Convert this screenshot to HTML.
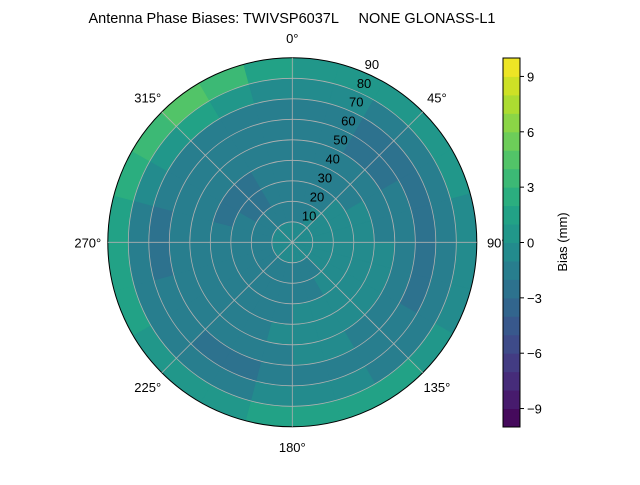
<!DOCTYPE html>
<html><head><meta charset="utf-8"><style>
body{margin:0;background:#fff;}
svg text{font-family:"Liberation Sans","DejaVu Sans",sans-serif;}
</style></head><body>
<svg id="chart" width="640" height="480" viewBox="0 0 640 480" xmlns="http://www.w3.org/2000/svg">
<text x="292" y="23" font-size="14.5" text-anchor="middle" xml:space="preserve">Antenna Phase Biases: TWIVSP6037L     NONE GLONASS-L1</text>
<defs><clipPath id="pc"><circle cx="292.3" cy="242.3" r="184.5"/></clipPath></defs>
<g id="cells" clip-path="url(#pc)"></g>
<g id="grid"></g>
<g id="cbar"></g>
</svg>
<script>
// zenith ring edges (deg) and azimuth bin starts (deg, clockwise from north)
const zenithEdges=[0,10,20,30,40,50,60,70,80,90];
const azimuthStarts=[0,15,30,45,60,75,90,105,120,135,150,165,180,195,210,225,240,255,270,285,300,315,330,345];
// bias values (mm) per ring (inner->outer), per azimuth bin
const biasRing0=[-0.5,-0.5,-0.5,-0.5,-0.5,-0.5,-0.5,-0.5,-0.5,-0.5,-0.5,-0.5,-0.5,-0.5,-0.5,-0.5,-0.5,-0.5,-0.5,-0.5,-0.5,-0.5,-0.5,-0.5];
const biasRing1=[-1.5,-1.5,-0.5,-0.5,-0.5,-0.5,-0.5,-0.5,-0.5,-1.5,-1.5,-1.5,-1.5,-1.5,-1.5,-1.5,-1.5,-1.5,-1.5,-1.5,-1.5,-1.5,-1.5,-1.5];
const biasRing2=[-1.5,-1.5,-1.5,-0.5,-0.5,-0.5,-0.5,-0.5,-0.5,-0.5,-1.5,-1.5,-1.5,-1.5,-1.5,-1.5,-1.5,-1.5,-1.5,-1.5,-2.5,-2.5,-1.5,-1.5];
const biasRing3=[-1.5,-1.5,-1.5,-1.5,-0.5,-0.5,-0.5,-0.5,-0.5,-0.5,-0.5,-0.5,-1.5,-1.5,-1.5,-1.5,-1.5,-1.5,-1.5,-2.5,-2.5,-2.5,-1.5,-1.5];
const biasRing4=[-1.5,-1.5,-1.5,-1.5,-1.5,-1.5,-0.5,-0.5,-0.5,-0.5,-0.5,-0.5,-0.5,-1.5,-1.5,-1.5,-1.5,-1.5,-1.5,-1.5,-1.5,-1.5,-1.5,-1.5];
const biasRing5=[-1.5,-1.5,-2.5,-2.5,-1.5,-1.5,-1.5,-1.5,-1.5,-1.5,-0.5,-0.5,-1.5,-1.5,-1.5,-1.5,-1.5,-1.5,-1.5,-1.5,-1.5,-1.5,-1.5,-1.5];
const biasRing6=[-1.5,-1.5,-2.5,-2.5,-2.5,-2.5,-2.5,-2.5,-1.5,-1.5,-1.5,-1.5,-1.5,-2.5,-2.5,-1.5,-1.5,-2.5,-2.5,-1.5,-1.5,-1.5,-1.5,-1.5];
const biasRing7=[-0.5,-0.5,-1.5,-1.5,-1.5,-1.5,-1.5,-1.5,-1.5,-1.5,-0.5,-0.5,-0.5,-1.5,-1.5,-1.5,-1.5,-1.5,-1.5,-0.5,0.5,1.5,0.5,-0.5];
const biasRing8=[0.5,0.5,0.5,0.5,0.5,-0.5,-0.5,-0.5,0.5,1.5,1.5,1.5,1.5,0.5,0.5,0.5,1.5,1.5,1.5,2.5,3.5,4.5,3.5,1.5];
const biasRings=[biasRing0,biasRing1,biasRing2,biasRing3,biasRing4,biasRing5,biasRing6,biasRing7,biasRing8];
const cbarTicks=[-9,-6,-3,0,3,6,9];
const ringLabels=[10,20,30,40,50,60,70,80,90];
const azLabels=[0,45,90,135,180,225,270,315];

const NS="http://www.w3.org/2000/svg";
const cx=292.3, cy=242.3, R=184.5, vmin=-10, vmax=10;
const rScale=z=>z/90*R;
const pt=(az,r)=>[cx+r*Math.sin(az*Math.PI/180), cy-r*Math.cos(az*Math.PI/180)];
const V=[[68,1,84],[72,36,117],[65,68,135],[53,95,141],[42,120,142],[33,145,140],[34,168,132],[68,191,112],[122,209,81],[189,223,38],[253,231,37]];
function viridis(t){t=Math.max(0,Math.min(1,t));const f=t*10,i=Math.min(9,Math.floor(f)),u=f-i;
 const c=V[i].map((a,k)=>Math.round(a+(V[i+1][k]-a)*u));return `rgb(${c[0]},${c[1]},${c[2]})`;}
const colorFor=v=>{const lv=Math.floor(v);return viridis((lv+0.5-vmin)/(vmax-vmin));};
function mk(tag,attrs,parent){const e=document.createElementNS(NS,tag);for(const k in attrs)e.setAttribute(k,attrs[k]);parent.appendChild(e);return e;}

const cells=document.getElementById('cells');
biasRings.forEach((ring,ri)=>{
 const r0=rScale(zenithEdges[ri]), r1=rScale(zenithEdges[ri+1])+(ri===8?3:0);
 ring.forEach((v,ai)=>{
  const a0=azimuthStarts[ai]-0.3, a1=azimuthStarts[ai]+15.3;
  const p1=pt(a0,r1),p2=pt(a1,r1),p3=pt(a1,r0),p4=pt(a0,r0);
  const d=`M${p1}A${r1},${r1} 0 0 1 ${p2}L${p3}`+(r0>0?`A${r0},${r0} 0 0 0 ${p4}`:'')+'Z';
  const p=mk('path',{d:d,fill:colorFor(v),stroke:colorFor(v),'stroke-width':0.6},cells);
  
  
 });
});

const grid=document.getElementById('grid');
ringLabels.forEach(z=>{
 const c=mk('circle',{cx:cx,cy:cy,r:rScale(z),fill:'none',stroke:z===90?'#000':'#b0b0b0','stroke-width':z===90?1:0.8},grid);
 
 
 const [x,y]=pt(22.5,rScale(z));
 const t=mk('text',{x:x+9,y:y-3,'font-size':13,'text-anchor':'middle'},grid);t.textContent=z;
 
 
});
azLabels.forEach(a=>{
 const [x,y]=pt(a,R);
 const l=mk('line',{x1:cx,y1:cy,x2:x,y2:y,stroke:'#b0b0b0','stroke-width':0.8},grid);
 
 
 const [tx,ty]=pt(a,R+20);
 const t=mk('text',{x:tx,y:ty+5,'font-size':13,'text-anchor':'middle'},grid);t.textContent=a+'°';
 
 
});

const cb=document.getElementById('cbar');
const cbX=503,cbW=17,cbTop=58,cbBot=427;
const cbY=v=>cbBot-(v-vmin)/(vmax-vmin)*(cbBot-cbTop);
for(let lv=vmin;lv<vmax;lv++){
 const r=mk('rect',{x:cbX,y:cbY(lv+1),width:cbW,height:cbY(lv)-cbY(lv+1)+0.5,fill:colorFor(lv+0.5)},cb);
 
 
}
mk('rect',{x:cbX,y:cbTop,width:cbW,height:cbBot-cbTop,fill:'none',stroke:'#000','stroke-width':1},cb);
cbarTicks.forEach(v=>{
 const y=cbY(v);
 mk('line',{x1:cbX+cbW,y1:y,x2:cbX+cbW+4,y2:y,stroke:'#000'},cb);
 const t=mk('text',{x:cbX+cbW+7,y:y+5,'font-size':13},cb);t.textContent=(v<0?'\u2212'+(-v):v);
 
 
});
const lab=mk('text',{x:567,y:242,'font-size':13,'text-anchor':'middle',transform:'rotate(-90 567 242)'},cb);
lab.textContent='Bias (mm)';


</script>
</body></html>
